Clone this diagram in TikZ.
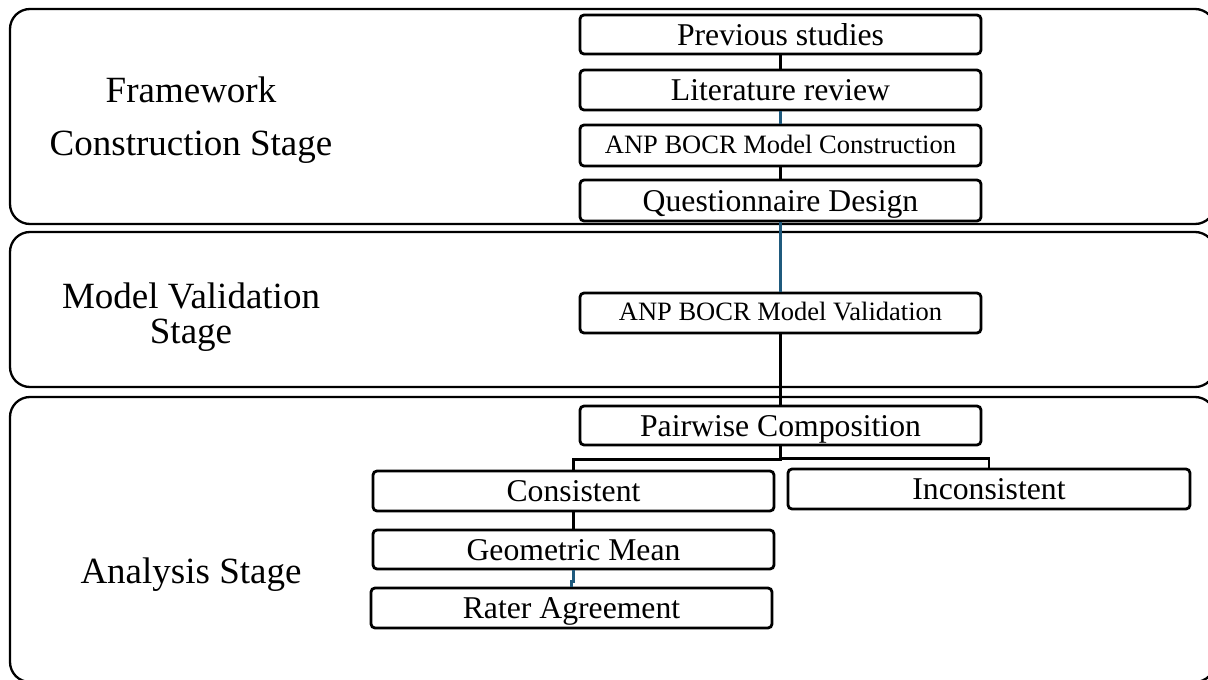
\documentclass[tikz,border=0pt]{standalone}
\usepackage{fontspec}
\setmainfont{Liberation Serif}
\definecolor{linkblue}{RGB}{31,90,125}
\tikzset{
  panel/.style={draw=black, line width=2.3pt, rounded corners=20pt},
  stepbox/.style={draw=black, line width=2.8pt, rounded corners=4pt, minimum width=401pt, minimum height=40pt, inner sep=0pt, text height=24pt, text depth=3pt, font=\fontsize{31.7}{36}\selectfont},
  smallbox/.style={stepbox, text height=18pt, text depth=3pt, font=\fontsize{26.5}{30}\selectfont},
  stagelabel/.style={align=center, inner sep=0pt},
  link/.style={draw=black, line width=2.6pt},
  bluelink/.style={draw=linkblue, line width=2.6pt}
}
\begin{document}
\begin{tikzpicture}[x=1pt,y=-1pt]
\useasboundingbox (0,0) rectangle (1208,680);
% panels
\draw[panel] (10,9) rectangle (1215,224);
\draw[panel] (10,232) rectangle (1215,387);
\draw[panel] (10,397) rectangle (1215,682);
% stage labels
\node[stagelabel, font=\fontsize{37}{53}\selectfont] (st1) at (191,120) {Framework\\Construction Stage};
\node[stagelabel, font=\fontsize{37}{35}\selectfont] (st2) at (191,317) {Model Validation\\Stage};
\node[stagelabel, font=\fontsize{37}{44}\selectfont] (st3) at (191,575) {Analysis Stage};
% boxes
\node[stepbox, minimum height=39pt] (prev) at (780.5,34.5) {Previous studies};
\node[stepbox] (lit) at (780.5,90) {Literature review};
\node[smallbox, minimum height=41pt] (anpc) at (780.5,145.5) {ANP BOCR Model Construction};
\node[stepbox, minimum height=41pt] (quest) at (780.5,200.5) {Questionnaire Design};
\node[smallbox] (valid) at (780.5,313) {ANP BOCR Model Validation};
\node[stepbox, minimum height=39pt] (pair) at (780.5,425.5) {Pairwise Composition};
\node[stepbox] (cons) at (573.5,491) {Consistent};
\node[stepbox, minimum width=402pt] (incons) at (989,489) {Inconsistent};
\node[stepbox, minimum height=39pt] (geo) at (573.5,549.5) {Geometric Mean};
\node[stepbox] (rater) at (571.5,608) {Rater Agreement};
% connectors
\draw[link] (prev.south) -- (lit.north);
\draw[bluelink] (lit.south) -- (anpc.north);
\draw[link] (anpc.south) -- (quest.north);
\draw[bluelink] (quest.south) -- (valid.north);
\draw[link] (valid.south) -- (pair.north);
\draw[link] (pair.south) -- ++(0,13) -| (cons.north);
\draw[link] (pair.south) ++(0,12) -| (incons.north);
\draw[link] (cons.south) -- (geo.north);
\draw[bluelink] (geo.south) -- ++(0,11) -| (rater.north);
\end{tikzpicture}
\end{document}
